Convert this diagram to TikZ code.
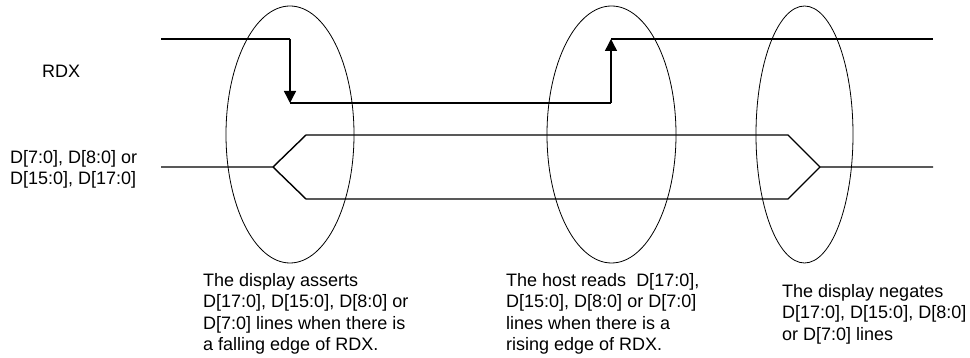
\documentclass[tikz,border=0pt]{standalone}
\usepackage{fontspec}
\setmainfont{Liberation Sans}
\usetikzlibrary{shapes.geometric,arrows.meta}
\begin{document}
\begin{tikzpicture}[x=1pt, y=-1pt,
  wave/.style={line width=1.4pt, line join=miter},
  edgearrow/.style={wave, -{Triangle[length=12pt, width=12pt]}},
  window/.style={ellipse, draw, line width=0.8pt, inner sep=0pt, minimum height=257pt},
  note/.style={anchor=north west, align=left, inner sep=0pt, font=\fontsize{18}{21.5}\selectfont}]
  \useasboundingbox (0,0) rectangle (970,358);

  % signal names
  \node[note] (rdx) at (42, 65) {RDX};
  \node[note] (bus) at (10, 150) {D[7:0], D[8:0] or\\D[15:0], D[17:0]};

  % RDX waveform
  \coordinate (r0) at (161, 39);
  \coordinate (r1) at (290, 39);
  \coordinate (r2) at (290, 103);
  \coordinate (r3) at (611, 103);
  \coordinate (r4) at (611, 39);
  \coordinate (r5) at (933, 39);
  \draw[wave] (r0) -- (r1);
  \draw[edgearrow] (r1) -- (r2);
  \draw[wave] (r2) -- (r3);
  \draw[edgearrow] (r3) -- (r4);
  \draw[wave] (r4) -- (r5);

  % data bus waveform
  \coordinate (d0) at (161, 167);
  \coordinate (d1) at (273, 167);
  \coordinate (dt1) at (306, 135);
  \coordinate (db1) at (306, 199);
  \coordinate (dt2) at (788, 135);
  \coordinate (db2) at (788, 199);
  \coordinate (d2) at (820, 167);
  \coordinate (d3) at (933, 167);
  \draw[wave] (d0) -- (d1) -- (dt1) -- (dt2) -- (d2) -- (d3);
  \draw[wave] (d1) -- (db1) -- (db2) -- (d2);

  % windows round the edges
  \node[window, minimum width=128pt] (assert) at (290, 134.5) {};
  \node[window, minimum width=129pt] (read) at (611.5, 134.5) {};
  \node[window, minimum width=97pt] (negate) at (804.5, 134.5) {};

  % notes
  \node[note] (assertnote) at (203, 273) {The display asserts\\D[17:0], D[15:0], D[8:0] or\\D[7:0] lines when there is\\a falling edge of RDX.};
  \node[note] (readnote) at (506, 273) {The host reads\ \ D[17:0],\\D[15:0], D[8:0] or D[7:0]\\lines when there is a\\rising edge of RDX.};
  \node[note] (negatenote) at (782, 284) {The display negates\\D[17:0], D[15:0], D[8:0]\\or D[7:0] lines};
\end{tikzpicture}
\end{document}
